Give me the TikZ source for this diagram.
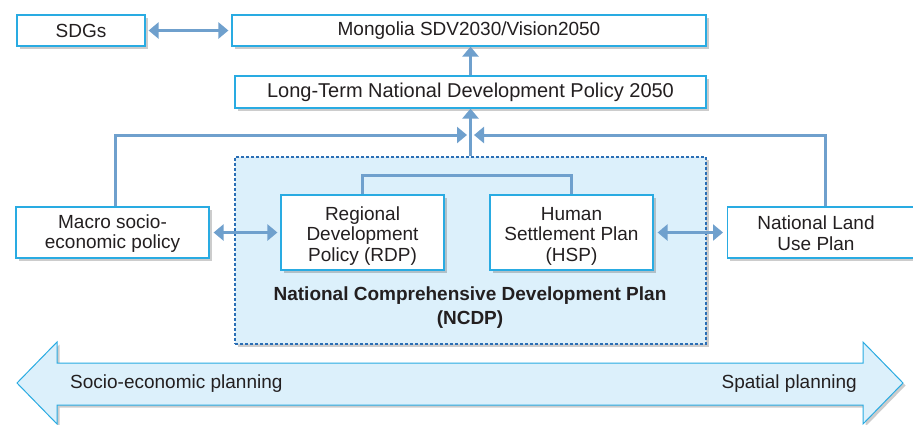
\documentclass[tikz,border=0pt]{standalone}
\usepackage{fontspec}
\setmainfont{Liberation Sans}
\usetikzlibrary{arrows.meta,shadows}
\definecolor{boxline}{HTML}{29ABE2}
\definecolor{connc}{HTML}{6FA0CD}
\definecolor{fillblue}{HTML}{DCF0FB}
\definecolor{dashblue}{HTML}{2A6EB5}
\definecolor{txt}{HTML}{231F20}
\begin{document}
\begin{tikzpicture}[x=1pt,y=-1pt,
  >={Triangle[width=16pt,length=10pt]},
  shad/.style={drop shadow={shadow xshift=2.5pt, shadow yshift=-2.5pt, fill=black, opacity=0.2}},
  box/.style={draw=boxline, line width=1.2pt, fill=white, text=txt, align=center, inner sep=0pt,
    font=\fontsize{19}{20.5}\selectfont, shad},
  plain/.style={text=txt, align=center, inner sep=0pt, font=\fontsize{19}{20.5}\selectfont},
  ncdpbox/.style={draw=dashblue, line width=1.2pt, dash pattern=on 3pt off 2pt, fill=fillblue, inner sep=0pt, shad},
  conn/.style={draw=connc, line width=3pt}]
\useasboundingbox (0,0) rectangle (913,424);
\clip (0,0) rectangle (913,424);

% big double arrow
\draw[draw=boxline, line width=1pt, fill=fillblue, shad]
  (17,383) -- (57,342) -- (57,363) -- (863,363) -- (863,342) -- (903,383)
  -- (863,424) -- (863,405) -- (57,405) -- (57,424) -- cycle;
\node[plain, anchor=west] (se) at (70,384) {Socio-economic planning};
\node[plain, anchor=east] (sp) at (857,384) {Spatial planning};

% NCDP container
\node[ncdpbox, minimum width=471pt, minimum height=187pt] (ncdp) at (470.5,250.5) {};
\node[plain, font=\bfseries\fontsize{19}{24}\selectfont] (ncdpl) at (470,308)
  {National Comprehensive Development Plan\\(NCDP)};

% boxes
\node[box, minimum width=128pt, minimum height=31pt] (sdg) at (81,30.5) {SDGs};
\node[box, minimum width=474pt, minimum height=31pt] (mon) at (469,30.5) {Mongolia SDV2030/Vision2050};
\node[box, minimum width=471pt, minimum height=32pt, font=\fontsize{20}{22}\selectfont] (ltp) at (470.5,92) {Long-Term National Development Policy 2050};
\node[box, minimum width=193pt, minimum height=51pt] (macro) at (112.5,232.5) {\rule{0pt}{16pt}Macro socio-\\economic policy};
\node[box, minimum width=163pt, minimum height=75pt] (rdp) at (362.5,232.5) {\rule{0pt}{20pt}Regional\\Development\\Policy (RDP)};
\node[box, minimum width=163pt, minimum height=75pt] (hsp) at (571.5,232.5) {\rule{0pt}{20pt}Human\\Settlement Plan\\(HSP)};
\node[box, minimum width=193pt, minimum height=51pt, anchor=west] (land) at (727,232.5) {};
\node[plain] (landt) at (816,233) {National Land\\Use Plan};

% connectors
\draw[conn,<->,shorten <=3pt,shorten >=3pt] (sdg) -- (mon);
\draw[conn,->] (ltp.north) -- (ltp.north |- mon.south);
\draw[conn,->] (ncdp.north) -- (ncdp.north |- ltp.south);
\coordinate (jl) at (467,135);
\coordinate (jr) at (474,135);
\draw[conn,->] ([xshift=2.5pt]macro.north) |- (jl);
\draw[conn,->] ([xshift=1.5pt]land.north) |- (jr);
\draw[conn] (rdp.north) -- ++(0,-19) -| (hsp.north);
\draw[conn,<->,shorten <=4pt,shorten >=3pt] (macro) -- (rdp);
\draw[conn,<->,shorten <=4pt,shorten >=4pt] (hsp.east) -- (land.west);
\end{tikzpicture}
\end{document}
